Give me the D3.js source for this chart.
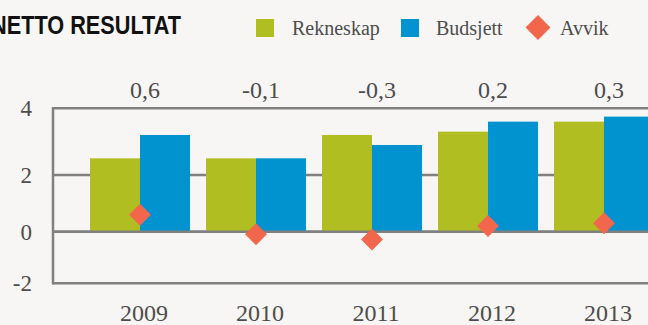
<!DOCTYPE html>
<html>
<head>
<meta charset="utf-8">
<script src="https://cdn.jsdelivr.net/npm/d3@7"></script>
<style>
  html, body { margin: 0; padding: 0; background: #f7f6f4; }
  svg { display: block; }
  .serif { font-family: "Liberation Serif", "DejaVu Serif", serif; }
  .title { font-family: "Liberation Sans", "DejaVu Sans", sans-serif; font-weight: bold; }
</style>
</head>
<body>
<svg id="chart" width="648" height="325"></svg>
<script>
// Netto resultat per år: rekneskap mot budsjett, og avvik
const years = ["2009", "2010", "2011", "2012", "2013"];
const rekneskap = [2.5, 2.5, 3.2, 3.3, 3.6];
const budsjett = [3.2, 2.5, 2.9, 3.6, 3.75];
const avvik = [0.6, -0.1, -0.3, 0.2, 0.3];
const yTicks = [-2, 0, 2, 4];
const seriesNames = ["Rekneskap", "Budsjett", "Avvik"];

const colors = { Rekneskap: "#b1be22", Budsjett: "#0093cf", Avvik: "#f2674b" };
const textColor = "#4d4d4d";
const gridColor = "#808080";

const svg = d3.select("#chart");
const W = 648;

const plotLeft = 53;
const x = d3.scaleBand().domain(years).range([82, 662]).paddingInner(0.138).paddingOuter(0.069);
const y = d3.scaleLinear().domain([-2, 0, 2, 4]).range([283.3, 231.7, 175, 108.3]);

const cx = d => x(d) + x.bandwidth() / 2;
const half = x.bandwidth() / 2;

// Gridlines
svg.append("g").selectAll("line").data(yTicks).join("line")
  .attr("x1", plotLeft).attr("x2", W + 10)
  .attr("y1", d => y(d)).attr("y2", d => y(d))
  .attr("stroke", gridColor).attr("stroke-width", 2.5);

// Left frame line
svg.append("line")
  .attr("x1", plotLeft).attr("x2", plotLeft)
  .attr("y1", y(4) - 1.2).attr("y2", y(-2) + 1.2)
  .attr("stroke", gridColor).attr("stroke-width", 2.5);

// Bars
const bars = svg.append("g");
bars.selectAll("rect.rek").data(years).join("rect")
  .attr("class", "rek")
  .attr("x", d => cx(d) - half)
  .attr("width", half)
  .attr("y", (d, i) => y(rekneskap[i]))
  .attr("height", (d, i) => y(0) - y(rekneskap[i]))
  .attr("fill", colors.Rekneskap);
bars.selectAll("rect.bud").data(years).join("rect")
  .attr("class", "bud")
  .attr("x", d => cx(d))
  .attr("width", half)
  .attr("y", (d, i) => y(budsjett[i]))
  .attr("height", (d, i) => y(0) - y(budsjett[i]))
  .attr("fill", colors.Budsjett);

// Zero line drawn over bar bottoms
svg.append("line")
  .attr("x1", plotLeft).attr("x2", W + 10)
  .attr("y1", y(0)).attr("y2", y(0))
  .attr("stroke", gridColor).attr("stroke-width", 2.5);

// Avvik diamonds
const diamond = d3.symbol().type(d3.symbolSquare).size(240);
svg.append("g").selectAll("path").data(years).join("path")
  .attr("d", diamond)
  .attr("transform", (d, i) => `translate(${cx(d)},${y(avvik[i])}) rotate(45)`)
  .attr("fill", colors.Avvik);

// Y tick labels
svg.append("g").selectAll("text").data(yTicks).join("text")
  .attr("class", "serif")
  .attr("x", 32).attr("y", d => y(d))
  .attr("dy", "0.34em")
  .attr("text-anchor", "end")
  .attr("font-size", 23)
  .attr("fill", textColor)
  .text(d => d);

// Avvik value labels above the plot
const fmt = v => String(v).replace(".", ",");
svg.append("g").selectAll("text").data(years).join("text")
  .attr("class", "serif")
  .attr("x", d => cx(d) + 5).attr("y", 98)
  .attr("text-anchor", "middle")
  .attr("font-size", 24)
  .attr("fill", textColor)
  .text((d, i) => fmt(avvik[i]));

// Year labels
svg.append("g").selectAll("text").data(years).join("text")
  .attr("class", "serif")
  .attr("x", d => cx(d) + 4).attr("y", 321)
  .attr("text-anchor", "middle")
  .attr("font-size", 24)
  .attr("fill", textColor)
  .text(d => d);

// Title, condensed to fit its slot
svg.append("text")
  .attr("class", "title")
  .attr("x", -9).attr("y", 34)
  .attr("font-size", 25)
  .attr("textLength", 190)
  .attr("lengthAdjust", "spacingAndGlyphs")
  .attr("fill", "#111")
  .text("NETTO RESULTAT");

// Legend
const legend = svg.append("g");
const legendItems = [
  { name: seriesNames[0], mark: 256, text: 292 },
  { name: seriesNames[1], mark: 401, text: 436 },
  { name: seriesNames[2], mark: 526, text: 560 }
];
legendItems.forEach(item => {
  if (item.name === "Avvik") {
    legend.append("path")
      .attr("d", d3.symbol().type(d3.symbolSquare).size(310))
      .attr("transform", `translate(${item.mark + 12},27.5) rotate(45)`)
      .attr("fill", colors[item.name]);
  } else {
    legend.append("rect")
      .attr("x", item.mark).attr("y", 19)
      .attr("width", 18).attr("height", 18)
      .attr("fill", colors[item.name]);
  }
  legend.append("text")
    .attr("class", "serif")
    .attr("x", item.text).attr("y", 35)
    .attr("font-size", 20)
    .attr("fill", textColor)
    .text(item.name);
});
</script>
</body>
</html>
